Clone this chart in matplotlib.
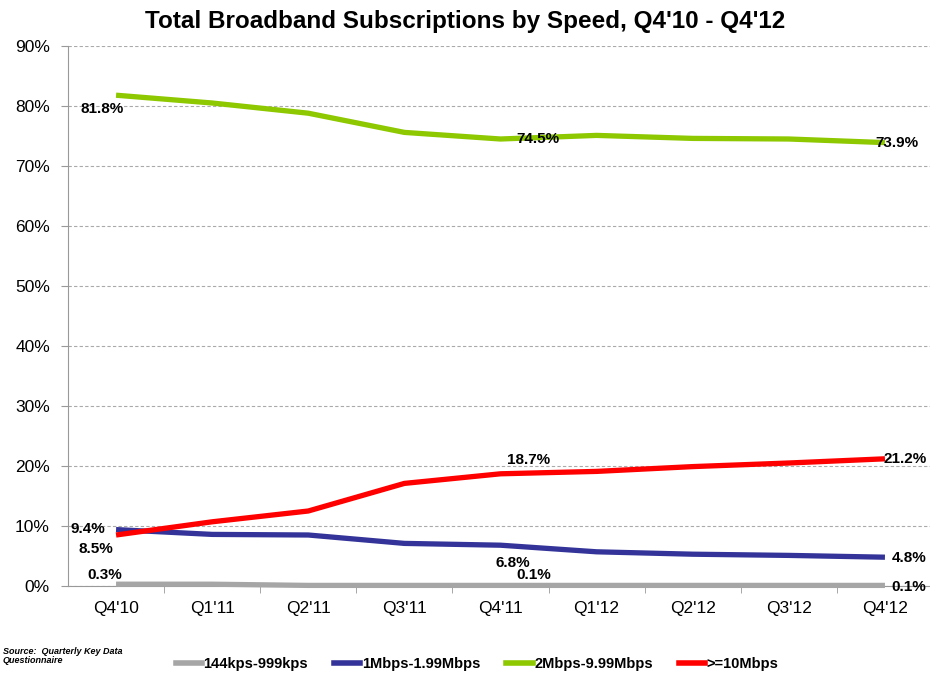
import numpy as np
import matplotlib.pyplot as plt
from matplotlib.lines import Line2D

plt.rcParams['font.family'] = ['Liberation Sans', 'DejaVu Sans']

quarters = ["Q4'10", "Q1'11", "Q2'11", "Q3'11", "Q4'11", "Q1'12", "Q2'12", "Q3'12", "Q4'12"]
low = [0.3, 0.3, 0.1, 0.1, 0.1, 0.1, 0.1, 0.1, 0.1]
mid = [9.4, 8.6, 8.5, 7.1, 6.8, 5.7, 5.3, 5.1, 4.8]
high = [81.8, 80.5, 78.8, 75.6, 74.5, 75.1, 74.6, 74.5, 73.9]
top = [8.5, 10.7, 12.5, 17.1, 18.7, 19.1, 19.9, 20.5, 21.2]
names = ['144kps-999kps', '1Mbps-1.99Mbps', '2Mbps-9.99Mbps', '>=10Mbps']
colors = ['#a6a6a6', '#333399', '#8dc800', '#ff0000']

fig = plt.figure(figsize=(9.3, 6.78), dpi=100)
ax = fig.add_axes([68 / 930, 92 / 678, 865 / 930, 540 / 678])
x = np.arange(len(quarters))

for vals, c in zip([low, mid, high, top], colors):
    ax.plot(x, vals, color=c, lw=3.8, solid_capstyle='butt', zorder=3, clip_on=False)

# data labels: (series, index, dx, dy) offsets in pixels from the point
labels = [
    (high, 0, -14, -14),
    (high, 4, 37, 0),
    (high, 8, 12, 0),
    (top, 4, 28, 14),
    (top, 8, 20, 0),
    (mid, 0, -28, 1),
    (top, 0, -20, -14),
    (mid, 4, 12, -18),
    (mid, 8, 24, -1),
    (low, 0, -11, 9),
    (low, 4, 33, 10),
    (low, 8, 24, -2),
]
for vals, i, dx, dy in labels:
    ax.annotate(f'{vals[i]:.1f}%', (x[i], vals[i]), xytext=(dx * 0.72, dy * 0.72),
                textcoords='offset points', ha='center', va='center',
                fontsize=11, fontweight='bold', zorder=5)

ax.set_xlim(-0.5, len(quarters) - 0.5)
ax.set_ylim(0, 90)
ax.set_yticks(np.arange(0, 91, 10))
ax.set_yticklabels([f'{v}%' for v in range(0, 91, 10)], fontsize=12.5)
ax.set_xticks(x)
ax.set_xticklabels(quarters, fontsize=12.5)
ax.set_xticks(np.arange(0.5, len(quarters) - 1, 1), minor=True)
ax.tick_params(axis='x', which='major', length=0, pad=11)
ax.tick_params(axis='x', which='minor', length=5, color='#999999')
ax.tick_params(axis='y', length=5, color='#999999', pad=8)
ax.yaxis.grid(True, ls=(0, (3, 2)), color='#aaaaaa', lw=0.8)
ax.set_axisbelow(True)
for s in ['top', 'right']:
    ax.spines[s].set_visible(False)
for s in ['left', 'bottom']:
    ax.spines[s].set_color('#999999')

fig.text(0.5, 0.968, "Total Broadband Subscriptions by Speed, Q4'10 - Q4'12",
         ha='center', va='center', fontsize=17.5, fontweight='bold')
fig.text(0.003, 0.032, 'Source:  Quarterly Key Data\nQuestionnaire', fontsize=6.5,
         style='italic', fontweight='bold', va='center', linespacing=1.0)

handles = [Line2D([0], [0], color=c, lw=4) for c in colors]
fig.legend(handles, names, loc='center', bbox_to_anchor=(0.513, 0.021), ncol=4,
           frameon=False, handlelength=1.8, handletextpad=0.1, columnspacing=1.8,
           prop={'weight': 'bold', 'size': 10.5})

fig.savefig('out.png', dpi=100)
